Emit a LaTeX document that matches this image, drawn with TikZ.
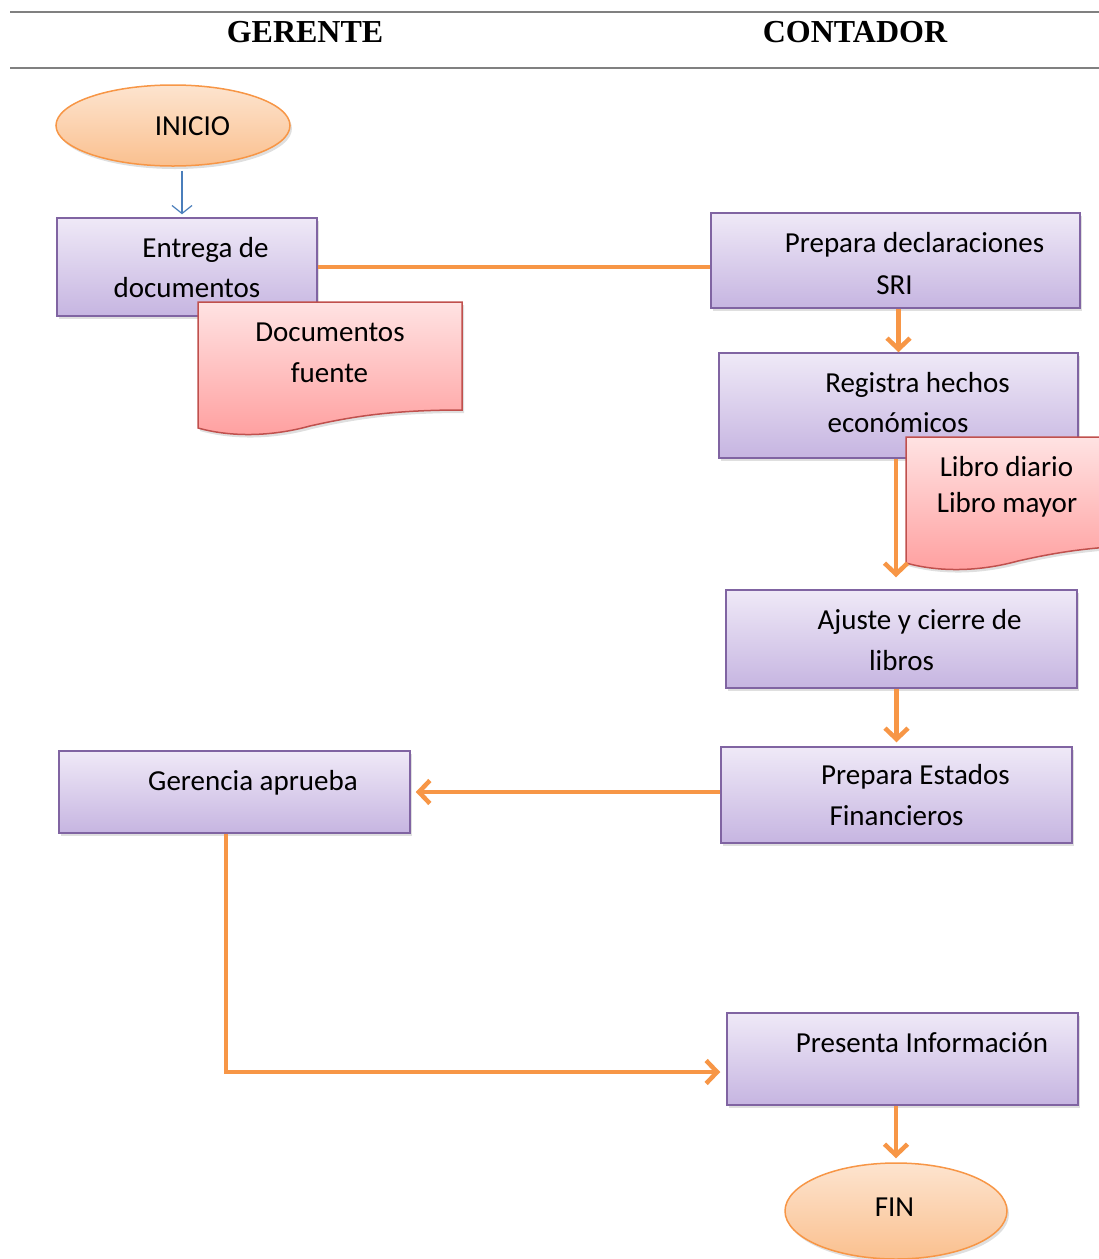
\documentclass[tikz,border=0pt]{standalone}
\usepackage{fontspec}
\setmainfont{Carlito}
\newfontfamily\headfont{Liberation Serif}
\usetikzlibrary{arrows.meta,shapes.geometric,shadows}

\definecolor{naranja}{HTML}{F79646}
\definecolor{morado}{HTML}{8064A2}
\definecolor{rojo}{HTML}{C0504D}
\definecolor{azul}{HTML}{4A7EBB}
\definecolor{gris}{HTML}{808080}
\definecolor{lilaclaro}{HTML}{EFE9F7}
\definecolor{lilaoscuro}{HTML}{C6B5E1}
\definecolor{rosaclaro}{HTML}{FFE3E3}
\definecolor{rosaoscuro}{HTML}{FF9F9F}
\definecolor{durazno}{HTML}{FDE4CF}
\definecolor{duraznooscuro}{HTML}{FAC08F}

\tikzset{
  sombra/.style={drop shadow={shadow xshift=2pt, shadow yshift=-3pt, opacity=0.25}},
  proceso/.style={rectangle, draw=morado, line width=1.5pt, inner sep=0pt,
    top color=lilaclaro, bottom color=lilaoscuro, sombra},
  terminal/.style={ellipse, draw=naranja, line width=1.5pt, inner sep=0pt,
    top color=durazno, bottom color=duraznooscuro, sombra},
  documento/.style={draw=rojo, line width=1.5pt, top color=rosaclaro, bottom color=rosaoscuro, sombra},
  txt/.style={anchor=base, inner sep=0pt, font=\fontsize{29}{35}\selectfont},
  cabecera/.style={anchor=base, inner sep=0pt, font=\headfont\bfseries\fontsize{32}{38}\selectfont},
  flecha/.style={draw=naranja, line width=4.5pt, -{Straight Barb[length=11pt,width=23pt,line width=4.5pt]}},
  linea/.style={draw=naranja, line width=4.5pt}
}

\begin{document}
\begin{tikzpicture}[x=1pt,y=-1pt]
  \useasboundingbox (0,0) rectangle (1099,1259);
  \clip (0,0) rectangle (1099,1259);

  % columns
  \draw[gris, line width=1.5pt] (10,12) -- (1099,12);
  \draw[gris, line width=1.5pt] (10,68) -- (1099,68);
  \node[cabecera] (gerente) at (305,42.5) {GERENTE};
  \node[cabecera] (contador) at (855,42.5) {CONTADOR};

  % shapes
  \node[terminal, minimum width=234pt, minimum height=81pt] (ini) at (173,125.5) {};
  \node[proceso, minimum width=260pt, minimum height=98pt] (ent) at (187,267) {};
  \node[proceso, minimum width=369pt, minimum height=95pt] (prep) at (895.5,260.5) {};
  \node[proceso, minimum width=359pt, minimum height=105pt] (reg) at (898.5,405.5) {};
  \node[proceso, minimum width=351pt, minimum height=98pt] (aju) at (901.5,639) {};
  \node[proceso, minimum width=351pt, minimum height=96pt] (est) at (896.5,795) {};
  \node[proceso, minimum width=351pt, minimum height=82pt] (ger) at (234.5,792) {};
  \node[proceso, minimum width=351pt, minimum height=92pt] (pres) at (902.5,1059) {};
  \node[terminal, minimum width=222pt, minimum height=96pt] (fin) at (896,1211) {};

  \draw[documento] (198,302) -- (462,302) -- (462,410)
    .. controls (390,410) and (350,417) .. (310,426)
    .. controls (270,437) and (230,437) .. (198,428) -- cycle;
  \draw[documento, shift={(708,135)}] (198,302) -- (462,302) -- (462,410)
    .. controls (390,410) and (350,417) .. (310,426)
    .. controls (270,437) and (230,437) .. (198,428) -- cycle;

  % texts
  \node[txt] (ini-t) at (192.5,135) {INICIO};
  \node[txt] (ent-a) at (205.5,257) {Entrega de};
  \node[txt] (ent-b) at (187,297) {documentos};
  \node[txt] (doc-a) at (330,341) {Documentos};
  \node[txt] (doc-b) at (329.5,382) {fuente};
  \node[txt] (prep-a) at (914.5,252.5) {Prepara declaraciones};
  \node[txt] (prep-b) at (894.5,294) {SRI};
  \node[txt] (reg-a) at (917.5,392.5) {Registra hechos};
  \node[txt] (reg-b) at (898,432.5) {económicos};
  \node[txt] (lib-a) at (1006.5,476) {Libro diario};
  \node[txt] (lib-b) at (1007,512) {Libro mayor};
  \node[txt] (aju-a) at (919.5,629.5) {Ajuste y cierre de};
  \node[txt] (aju-b) at (901.5,670) {libros};
  \node[txt] (est-a) at (915.5,784) {Prepara Estados};
  \node[txt] (est-b) at (896.5,825) {Financieros};
  \node[txt] (ger-t) at (253,790) {Gerencia aprueba};
  \node[txt] (pres-t) at (922,1052.5) {Presenta Información};
  \node[txt] (fin-t) at (894.5,1216.5) {FIN};

  % connectors
  \draw[azul, line width=1.2pt, -{Straight Barb[length=8pt,width=20pt,line width=1.2pt]},
    shorten <=4pt, shorten >=3pt] ([xshift=9pt]ini.south) -- ([xshift=-5pt]ent.north);
  \draw[linea] (ent.east) -- (ent.east -| prep.west);
  \draw[flecha] (reg.north |- prep.south) -- (reg.north);
  \draw[flecha, shorten >=12pt] ([xshift=-2.5pt]reg.south) -- ([xshift=-2.5pt]reg.south |- aju.north);
  \draw[flecha, shorten >=4pt] (est.north |- aju.south) -- (est.north);
  \draw[flecha, shorten >=5pt] (est.west |- ger.east) -- (ger.east);
  \draw[flecha, shorten >=6pt] ([xshift=-8.5pt]ger.south) |- ([yshift=-13pt]pres.west);
  \draw[flecha, shorten >=4pt] (fin.north |- pres.south) -- (fin.north);
\end{tikzpicture}
\end{document}
